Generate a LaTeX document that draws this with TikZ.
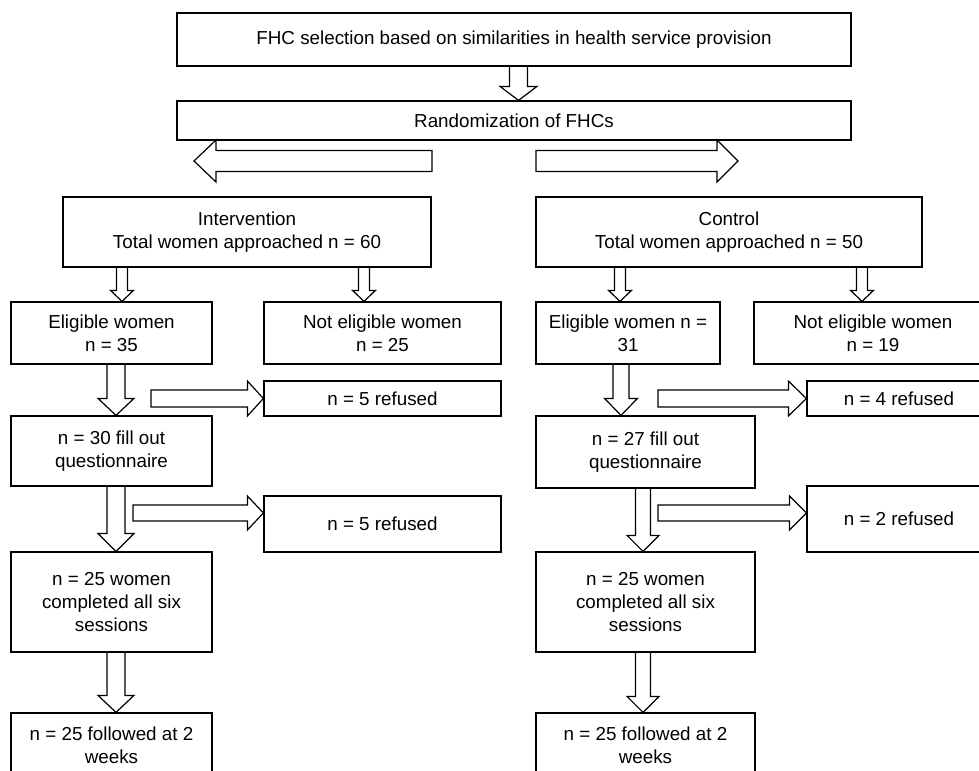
\documentclass[tikz,border=0pt]{standalone}
\usepackage{fontspec}
\setmainfont{Liberation Sans}
\usepackage{tikz}
\usetikzlibrary{calc}

% hollow arrow pointing down: x, upper node, lower node, shaft, head, head length
\newcommand{\downblock}[6]{%
  \draw[blockarrow] ($(#1,0 |- #2.south)+(-#4,0)$)
    -- ($(#1,0 |- #3.north)+(-#4,-#6)$) -- ($(#1,0 |- #3.north)+(-#5,-#6)$)
    -- (#1,0 |- #3.north)
    -- ($(#1,0 |- #3.north)+(#5,-#6)$) -- ($(#1,0 |- #3.north)+(#4,-#6)$)
    -- ($(#1,0 |- #2.south)+(#4,0)$);}
% hollow arrow sideways: start, target, shaft, head, head length (negative = to the left)
\newcommand{\sideblock}[5]{%
  \draw[blockarrow] ($(#1)+(0,-#3)$)
    -- ($(#1 -| #2)+({-(#5)},-#3)$) -- ($(#1 -| #2)+({-(#5)},-#4)$)
    -- (#1 -| #2)
    -- ($(#1 -| #2)+({-(#5)},#4)$) -- ($(#1 -| #2)+({-(#5)},#3)$)
    -- ($(#1)+(0,#3)$) -- cycle;}

\begin{document}
\begin{tikzpicture}[x=0.75pt,y=-0.75pt,line width=0.9pt,
                        flowbox/.style 2 args={draw, rectangle, align=center, inner sep=0pt,
                          minimum width=#1*0.75pt, minimum height=#2*0.75pt,
                          font=\fontsize{14.1}{17.3}\selectfont},
                        blockarrow/.style={draw, line join=miter}]

        \clip (0,0) rectangle (979,771);

        \node[flowbox={674}{53}] (fhc) at (514,39.5) {FHC selection based on similarities in health service provision};
        \node[flowbox={674}{39}] (rand) at (514,120.5) {Randomization of FHCs};

        % intervention arm
        \node[flowbox={368}{70}] (int) at (247,232) {Intervention\\Total women approached n = 60};
        \node[flowbox={201}{62}] (eligA) at (111.5,333) {Eligible women\\n = 35};
        \node[flowbox={237}{62}] (noteligA) at (382.5,333) {Not eligible women\\n = 25};
        \node[flowbox={237}{35}] (refA1) at (382.5,398.5) {n = 5 refused};
        \node[flowbox={201}{70}] (fillA) at (111.5,451) {n = 30 fill out\\questionnaire};
        \node[flowbox={237}{56}] (refA2) at (382.5,524) {n = 5 refused};
        \node[flowbox={201}{100}] (compA) at (111.5,602) {n = 25 women\\completed all six\\sessions};
        \node[flowbox={201}{64}] (follA) at (111.5,745) {n = 25 followed at 2\\weeks};

        % control arm
        \node[flowbox={386}{70}] (ctrl) at (729,232) {Control\\Total women approached n = 50};
        \node[flowbox={184}{62}] (eligB) at (628,333) {Eligible women n =\\31};
        \node[flowbox={238}{62}] (noteligB) at (873,333) {Not eligible women\\n = 19};
        \node[flowbox={184}{35}] (refB1) at (899,398.5) {n = 4 refused};
        \node[flowbox={219}{72}] (fillB) at (645.5,452) {n = 27 fill out\\questionnaire};
        \node[flowbox={184}{66}] (refB2) at (899,519) {n = 2 refused};
        \node[flowbox={219}{100}] (compB) at (645.5,602) {n = 25 women\\completed all six\\sessions};
        \node[flowbox={219}{64}] (follB) at (645.5,745) {n = 25 followed at 2\\weeks};

        \coordinate (leftfrom) at (432,161);
        \coordinate (lefttip) at (194,161);
        \coordinate (rightfrom) at (536,161);
        \coordinate (righttip) at (738,161);
        \coordinate (sideA1) at (151,398.5);
        \coordinate (sideA2) at (133,513);
        \coordinate (sideB1) at (658,398.5);
        \coordinate (sideB2) at (658,513);

        \downblock{518.5}{fhc}{rand}{9}{18.5}{14}
        \sideblock{leftfrom}{lefttip}{10.5}{21}{-22}
        \sideblock{rightfrom}{righttip}{10.5}{21}{21}

        \downblock{122}{int}{eligA}{5.5}{11.5}{11}
        \downblock{364}{int}{noteligA}{5.5}{11.5}{11}
        \downblock{116}{eligA}{fillA}{9}{18}{17}
        \downblock{116}{fillA}{compA}{9}{18}{18}
        \downblock{116}{compA}{follA}{9}{18}{17}
        \sideblock{sideA1}{refA1.west}{8.5}{17.5}{16}
        \sideblock{sideA2}{refA2.west}{8}{17}{16}

        \downblock{620}{ctrl}{eligB}{5.5}{11.5}{11}
        \downblock{862}{ctrl}{noteligB}{5.5}{11.5}{11}
        \downblock{621}{eligB}{fillB}{8}{16.5}{17}
        \downblock{643}{fillB}{compB}{7.5}{16}{16}
        \downblock{643}{compB}{follB}{7.5}{16}{16}
        \sideblock{sideB1}{refB1.west}{8.5}{17.5}{18}
        \sideblock{sideB2}{refB2.west}{8}{17}{17}
    \end{tikzpicture}
\end{document}
